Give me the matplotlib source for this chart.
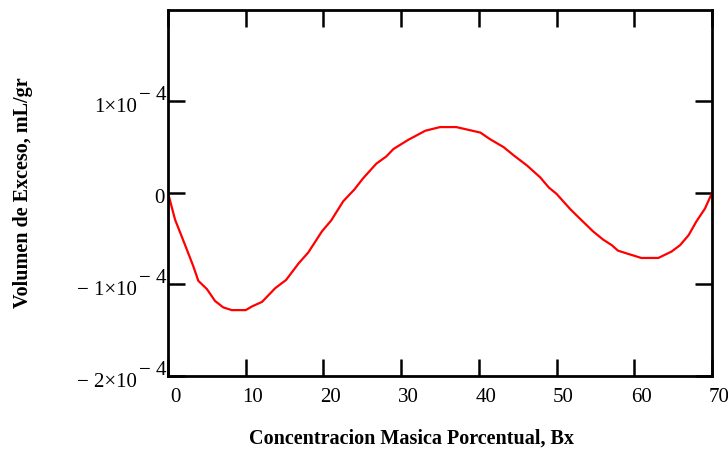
import matplotlib
matplotlib.use("Agg")
import matplotlib.pyplot as plt
from matplotlib.transforms import ScaledTranslation

plt.rcParams['font.family'] = 'Liberation Serif'

# exceso de volumen vs concentracion masica (%)
bx = [0, 0.9, 2.2, 3.25, 3.9, 5.0, 6.05, 7.1, 8.2, 10.0, 10.8, 12.1, 13.8, 15.2,
      16.8, 18.05, 19.8, 21.0, 22.55, 24.0, 25.1, 26.8, 28.1, 29.0, 30.9, 33.1,
      35.0, 37.1, 40.2, 41.4, 43.2, 44.5, 46.2, 47.9, 49.0, 50.0, 51.8, 53.0,
      54.7, 56.0, 57.1, 57.9, 59.0, 60.9, 63.1, 64.8, 65.9, 67.0, 68.0, 69.1, 70.0]
ve = [0, -0.29, -0.57, -0.80, -0.96, -1.05, -1.18, -1.25, -1.28, -1.28, -1.24,
      -1.19, -1.04, -0.95, -0.77, -0.65, -0.42, -0.30, -0.09, 0.04, 0.16, 0.32,
      0.40, 0.48, 0.58, 0.68, 0.72, 0.72, 0.66, 0.59, 0.50, 0.41, 0.30, 0.17,
      0.06, -0.01, -0.18, -0.28, -0.42, -0.51, -0.57, -0.63, -0.66, -0.71,
      -0.71, -0.64, -0.57, -0.46, -0.31, -0.17, 0]
ve = [v * 1e-4 for v in ve]

yticks = [-2e-4, -1e-4, 0, 1e-4]
# mantisa y exponente por separado (estilo Mathcad)
ymant = ["\u2212 2\u00d710", "\u2212 1\u00d710", "0", "1\u00d710"]
yexp = ["\u2212 4", "\u2212 4", "", "\u2212 4"]
xticks = [0, 10, 20, 30, 40, 50, 60, 70]

fig = plt.figure(figsize=(7.28, 4.53), dpi=100)
ax = fig.add_axes([0.2308, 0.170, 0.7472, 0.808])

ax.plot(bx, ve, color='red', lw=1.6)

ax.set_xlim(0, 70)
ax.set_ylim(-2e-4, 2e-4)
ax.set_xticks(xticks)
ax.set_yticks(yticks)
ax.set_yticklabels([])

for s in ax.spines.values():
    s.set_linewidth(2.0)
ax.tick_params(direction='in', length=12, width=1.8, top=True, right=True,
               labelsize=15)
ax.tick_params(axis='x', pad=9)

# etiquetas del eje x corridas un poco a la derecha
shift = ScaledTranslation(0.07, 0, fig.dpi_scale_trans)
for lab in ax.get_xticklabels():
    lab.set_transform(lab.get_transform() + shift)

ytrans = ax.get_yaxis_transform()
for y, m, e in zip(yticks, ymant, yexp):
    if e:
        ax.annotate(m, xy=(0, y), xycoords=ytrans, xytext=(-31, -11),
                    textcoords='offset pixels', ha='right', va='baseline',
                    fontsize=15)
        ax.annotate(e, xy=(0, y), xycoords=ytrans, xytext=(-29, 1),
                    textcoords='offset pixels', ha='left', va='baseline',
                    fontsize=15)
    else:
        ax.annotate(m, xy=(0, y), xycoords=ytrans, xytext=(-3, -10),
                    textcoords='offset pixels', ha='right', va='baseline',
                    fontsize=15)

ax.set_xlabel("Concentracion Masica Porcentual, Bx", fontsize=14.5,
              fontweight='bold')
ax.xaxis.set_label_coords(0.4476, -0.145)
ax.set_ylabel("Volumen de Exceso, mL/gr", fontsize=14.5, fontweight='bold')
ax.yaxis.set_label_coords(-0.248, 0.5)

fig.savefig("out.png", dpi=100)
